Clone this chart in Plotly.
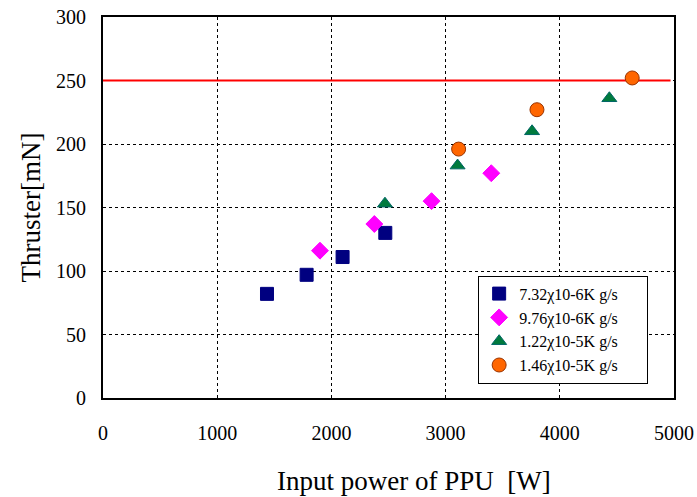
import plotly.graph_objects as go

# --- data ---
series_names = ["7.32χ10-6Κ g/s", "9.76χ10-6Κ g/s", "1.22χ10-5Κ g/s", "1.46χ10-5Κ g/s"]

power_s1 = [1436, 1783, 2098, 2472]
thrust_s1 = [82, 97, 111, 130]

power_s2 = [1900, 2376, 2877, 3400]
thrust_s2 = [116, 137, 155, 177]

power_s3 = [2469, 3105, 3757, 4434]
thrust_s3 = [153, 183, 210, 236]

power_s4 = [3114, 3800, 4634]
thrust_s4 = [196, 227, 252]

threshold = 250
threshold_x = [0, 4970]

x_ticks = [0, 1000, 2000, 3000, 4000, 5000]
y_ticks = [0, 50, 100, 150, 200, 250, 300]

x_title = "Input power of PPU&nbsp;&nbsp;[W]"
y_title = "Thruster[mN]"

FONT = "Liberation Serif, Times New Roman, serif"

fig = go.Figure()

fig.add_trace(go.Scatter(x=threshold_x, y=[threshold, threshold], mode="lines",
                         line=dict(color="#FF0000", width=2), showlegend=False, hoverinfo="skip"))

styles = [
    dict(symbol="square", color="#000080", line=dict(color="#000080", width=1), size=13),
    dict(symbol="diamond", color="#FF00FF", line=dict(color="#FF00FF", width=1), size=13),
    dict(symbol="triangle-up", color="#007A3D", line=dict(color="#006666", width=1), size=13),
    dict(symbol="circle", color="#FF6600", line=dict(color="#993300", width=1), size=14),
]
xs = [power_s1, power_s2, power_s3, power_s4]
ys = [thrust_s1, thrust_s2, thrust_s3, thrust_s4]
pad = "&nbsp;" * 6
for name, x, y, st in zip(series_names, xs, ys, styles):
    fig.add_trace(go.Scatter(x=x, y=y, mode="markers", name=name + pad, marker=st))

fig.update_layout(
    width=697, height=497,
    margin=dict(l=103, r=23, t=17, b=99),
    paper_bgcolor="white", plot_bgcolor="white",
    font=dict(family=FONT, color="black", size=20),
    xaxis=dict(range=[0, 5000], tickvals=x_ticks, showgrid=True, gridcolor="black",
               griddash="dot", gridwidth=1, showline=True, linecolor="black", linewidth=2,
               mirror=True, zeroline=False, ticks="", ticklabelstandoff=16, automargin=False,
               tickfont=dict(size=20, family=FONT)),
    yaxis=dict(range=[0, 300], tickvals=y_ticks, showgrid=True, gridcolor="black",
               griddash="dot", gridwidth=1, showline=True, linecolor="black", linewidth=2,
               mirror=True, zeroline=False, ticks="", ticklabelstandoff=11, automargin=False,
               tickfont=dict(size=20, family=FONT),
               title=dict(text=y_title, font=dict(size=27, family=FONT), standoff=8)),
    legend=dict(x=0.657, y=0.321, xanchor="left", yanchor="top", bgcolor="white",
                bordercolor="black", borderwidth=1, font=dict(size=16, family=FONT),
                tracegroupgap=0, itemwidth=30),
    annotations=[dict(text=x_title, xref="paper", yref="paper", x=0.545, y=-0.218,
                      xanchor="center", yanchor="middle", showarrow=False,
                      font=dict(size=27, family=FONT))],
)

fig.write_html("out.html", config={"displayModeBar": False},
               post_script="document.body.style.margin='0px';")
